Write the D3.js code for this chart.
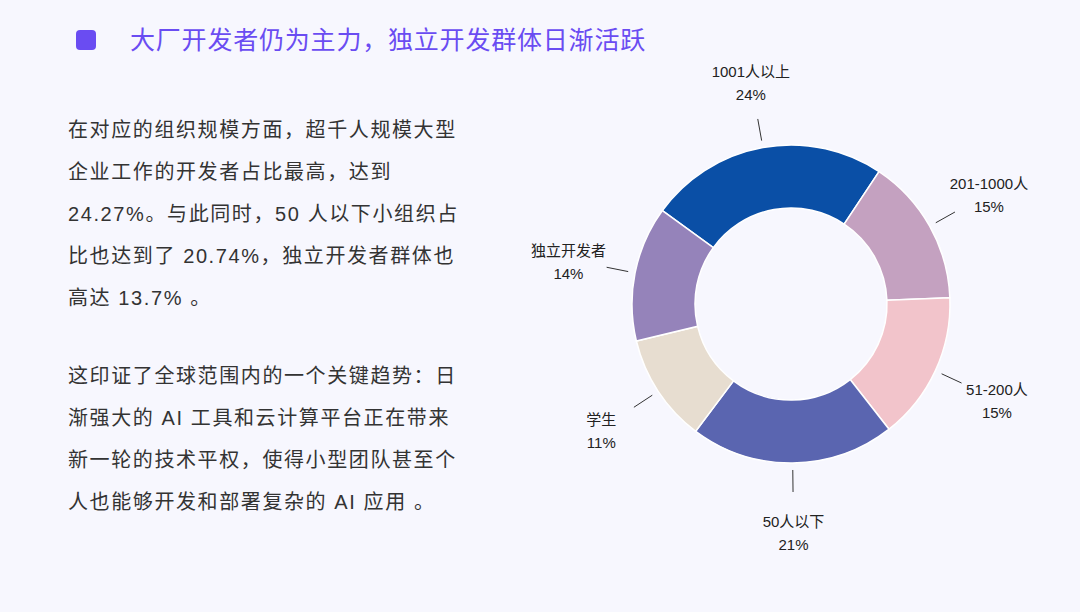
<!DOCTYPE html>
<html><head><meta charset="utf-8">
<script src="https://cdn.jsdelivr.net/npm/d3@7"></script>
<style>
body{margin:0;background:#f7f7fe;font-family:"Liberation Sans","Noto Sans CJK SC",sans-serif;}
</style></head><body>
<svg id="c" width="1080" height="612"></svg>
<script>
const categories=["1001人以上","201-1000人","51-200人","50人以下","学生","独立开发者"];
const values=[24.27,15,15,20.74,11,13.7];
const pctLabels=["24%","15%","15%","21%","11%","14%"];
const colors=["#0a4fa6","#c4a1c0","#f2c4cb","#5a65b0","#e7ddd0","#9583ba"];
const titleText="大厂开发者仍为主力，独立开发群体日渐活跃";
const para1=["在对应的组织规模方面，超千人规模大型","企业工作的开发者占比最高，达到","24.27%。与此同时，50 人以下小组织占","比也达到了 20.74%，独立开发者群体也","高达 13.7% 。"];
const para2=["这印证了全球范围内的一个关键趋势：日","渐强大的 AI 工具和云计算平台正在带来","新一轮的技术平权，使得小型团队甚至个","人也能够开发和部署复杂的 AI 应用 。"];

const svg=d3.select("#c");
svg.append("rect").attr("x",0).attr("y",0).attr("width",1080).attr("height",612).attr("fill","#f7f7fe");
svg.append("rect").attr("x",76).attr("y",30).attr("width",20).attr("height",20).attr("rx",4).attr("fill","#6a4cf2");
svg.append("text").attr("x",130).attr("y",49).attr("font-size",25).attr("letter-spacing",0.8).attr("fill","#6a4cf2").text(titleText);
const tg=svg.append("g").attr("font-size",20).attr("letter-spacing",1.6).attr("fill","#333");
para1.forEach((t,i)=>tg.append("text").attr("x",68).attr("y",137+i*42).text(t));
para2.forEach((t,i)=>tg.append("text").attr("x",68).attr("y",383+i*42).text(t));

const cx=791,cy=304,R=159,r0=96;
const pie=d3.pie().sort(null).value(d=>d).startAngle(-54*Math.PI/180).endAngle(306*Math.PI/180);
const arcs=pie(values);
const arc=d3.arc().innerRadius(r0).outerRadius(R);
const g=svg.append("g").attr("transform",`translate(${cx},${cy})`);
g.selectAll("path").data(arcs).join("path").attr("d",arc)
 .attr("fill",(d,i)=>colors[i]).attr("stroke","#fff").attr("stroke-width",1.5);
const pt=(a,rr)=>[rr*Math.sin(a),-rr*Math.cos(a)];
arcs.forEach((d,i)=>{
 const m=(d.startAngle+d.endAngle)/2;
 const p1=pt(m,166),p2=pt(m,188);
 g.append("line").attr("x1",p1[0]).attr("y1",p1[1]).attr("x2",p2[0]).attr("y2",p2[1]).attr("stroke","#333").attr("stroke-width",1);
 const p=pt(m,227);
 const t=g.append("text").attr("text-anchor","middle").attr("font-size",15).attr("fill","#222");
 t.append("tspan").attr("x",p[0]).attr("y",p[1]-4).text(categories[i]);
 t.append("tspan").attr("x",p[0]).attr("y",p[1]+19).text(pctLabels[i]);
});
</script></body></html>
